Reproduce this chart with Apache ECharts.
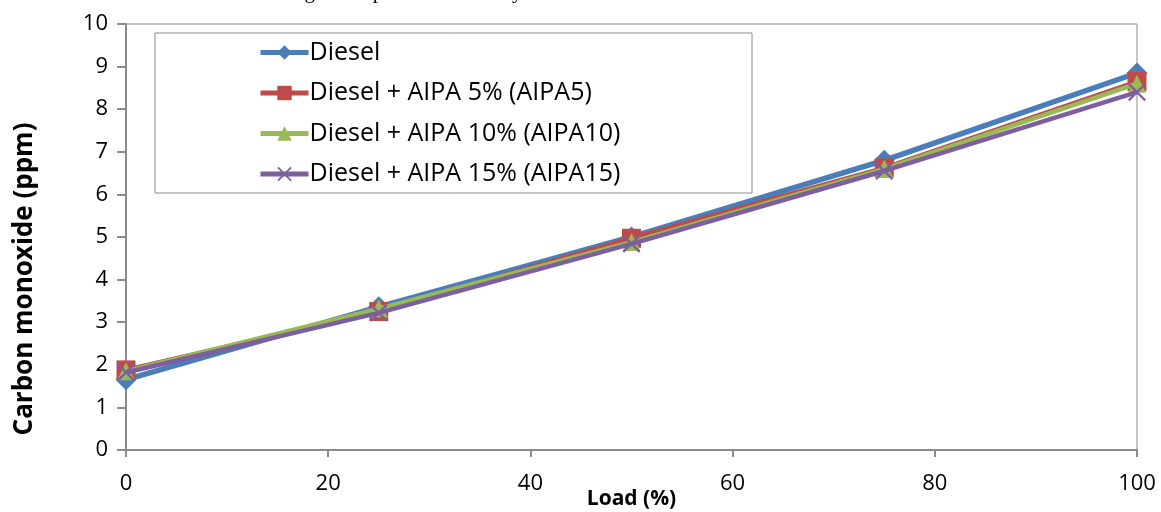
<!DOCTYPE html>
<html>
<head>
<meta charset="utf-8">
<script src="https://cdn.jsdelivr.net/npm/echarts@6/dist/echarts.min.js"></script>
<style>
  html, body { margin: 0; padding: 0; background: #fff; }
  #chart { width: 1161px; height: 512px; }
</style>
</head>
<body>
<div id="chart"></div>
<script>
const loads = [0, 25, 50, 75, 100];
const seriesNames = ['Diesel', 'Diesel + AIPA 5% (AIPA5)', 'Diesel + AIPA 10% (AIPA10)', 'Diesel + AIPA 15% (AIPA15)'];
const diesel = [1.65, 3.36, 5.0, 6.8, 8.85];
const aipa5 = [1.88, 3.25, 4.97, 6.62, 8.65];
const aipa10 = [1.85, 3.32, 4.88, 6.6, 8.6];
const aipa15 = [1.82, 3.22, 4.84, 6.55, 8.4];
const yTicks = [0, 1, 2, 3, 4, 5, 6, 7, 8, 9, 10];
const xTicks = [0, 20, 40, 60, 80, 100];
const titleText = 'Fig. 8 Graph variation of hydrocarbon emission with load';

const colors = ['#4A7EBB', '#BE4B48', '#98B954', '#7D5FA0'];
const allData = [diesel, aipa5, aipa10, aipa15];
const symbols = [
  'diamond',
  'rect',
  'triangle',
  'path://M0,0.9 L0.9,0 L5,4.1 L9.1,0 L10,0.9 L5.9,5 L10,9.1 L9.1,10 L5,5.9 L0.9,10 L0,9.1 L4.1,5 Z'
];
const symbolSizes = [21, 19, 18, 18];
const lineWidths = [5.5, 4.5, 4.5, 4.5];
const FONT = '"Open Sans", Lato, sans-serif';

const chart = echarts.init(document.getElementById('chart'), null, { renderer: 'canvas' });
chart.setOption({
  animation: false,
  backgroundColor: '#ffffff',
  grid: {
    left: 126, right: 24, top: 24, bottom: 62,
    containLabel: false,
    outerBoundsMode: 'none',
    show: true, borderColor: '#8c8c8c', borderWidth: 1, backgroundColor: 'transparent'
  },
  graphic: [
    {
      type: 'text',
      x: 287, y: -8,
      style: { text: titleText, font: '21px "Liberation Serif", serif', fill: '#000', verticalAlign: 'middle', align: 'left' }
    },
    {
      type: 'rect',
      shape: { x: 155, y: 33, width: 597, height: 160 },
      style: { fill: '#fff', stroke: '#8c8c8c', lineWidth: 1 },
      z: 5
    }
  ],
  legend: {
    orient: 'vertical',
    left: 258,
    top: 40,
    padding: 0,
    itemWidth: 48,
    itemHeight: 18,
    itemGap: 15.5,
    z: 10,
    data: seriesNames,
    lineStyle: { width: 5 },
    textStyle: { fontFamily: FONT, fontSize: 25, lineHeight: 25, color: '#000', padding: [0, 0, 0, -4] }
  },
  xAxis: {
    type: 'value',
    min: 0, max: 100, interval: 20,
    name: 'Load (%)',
    nameLocation: 'middle',
    nameGap: 39,
    nameMoveOverlap: false,
    nameTextStyle: { fontFamily: FONT, fontWeight: 'bold', fontSize: 21, color: '#000' },
    axisLine: { show: true, lineStyle: { color: '#8c8c8c', width: 2 } },
    axisTick: { show: true, inside: false, length: 7, lineStyle: { color: '#8c8c8c', width: 2 } },
    axisLabel: { fontFamily: FONT, fontSize: 22, color: '#000', margin: 23,
      formatter: v => xTicks.includes(v) ? String(v) : '' },
    splitLine: { show: false }
  },
  yAxis: {
    type: 'value',
    min: 0, max: 10, interval: 1,
    name: 'Carbon monoxide (ppm)',
    nameLocation: 'middle',
    nameGap: 88,
    nameMoveOverlap: false,
    nameTextStyle: { fontFamily: FONT, fontWeight: 'bold', fontSize: 26, color: '#000', padding: [0, 84, 0, 0] },
    axisLine: { show: true, lineStyle: { color: '#8c8c8c', width: 2 } },
    axisTick: { show: true, inside: false, length: 9, lineStyle: { color: '#8c8c8c', width: 2 } },
    axisLabel: { fontFamily: FONT, fontSize: 22, color: '#000', margin: 18,
      formatter: v => yTicks.includes(v) ? String(v) : '' },
    splitLine: { show: false }
  },
  series: seriesNames.map((name, i) => ({
    name: name,
    type: 'line',
    data: loads.map((x, j) => [x, allData[i][j]]),
    symbol: symbols[i],
    symbolSize: symbolSizes[i],
    showSymbol: true,
    clip: false,
    lineStyle: { color: colors[i], width: lineWidths[i] },
    itemStyle: { color: colors[i], borderWidth: 0 },
    z: 2 + i
  }))
});
</script>
</body>
</html>
